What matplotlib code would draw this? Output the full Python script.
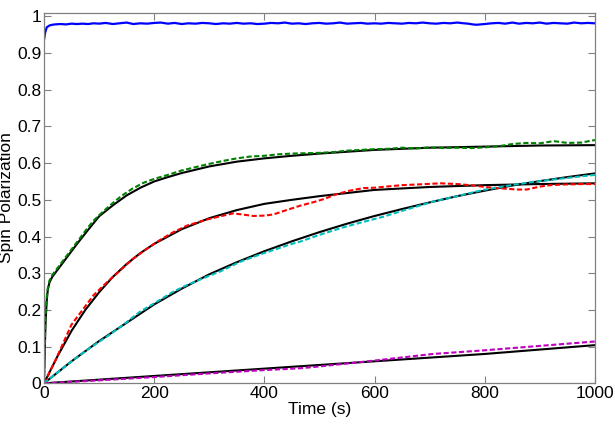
import numpy as np
import matplotlib
matplotlib.use("Agg")
from matplotlib import pyplot as plt

plt.rcParams['font.family'] = ['Liberation Sans', 'DejaVu Sans']

# blue data (solid, no fit)
blue_t = [0, 2, 5, 10, 15, 20, 30, 40, 50, 60, 70, 80, 90, 100, 112, 125, 137, 150,
          162, 175, 187, 200, 212, 225, 237, 250, 262, 275, 287, 300, 312, 325, 337,
          350, 362, 375, 387, 400, 412, 425, 437, 450, 462, 475, 487, 500, 512, 525,
          537, 550, 562, 575, 587, 600, 612, 625, 637, 650, 662, 675, 687, 700, 712,
          725, 737, 750, 762, 770, 778, 785, 792, 800, 812, 825, 837, 850, 862, 875,
          887, 900, 912, 925, 937, 950, 962, 975, 987, 1000]
blue_v = [0.935, 0.955, 0.970, 0.975, 0.977, 0.978, 0.979, 0.978, 0.980, 0.979, 0.980,
          0.979, 0.981, 0.980, 0.982, 0.979, 0.981, 0.983, 0.979, 0.981, 0.980, 0.982,
          0.983, 0.980, 0.982, 0.979, 0.981, 0.980, 0.982, 0.981, 0.979, 0.981, 0.980,
          0.982, 0.980, 0.981, 0.979, 0.980, 0.982, 0.981, 0.983, 0.980, 0.981, 0.979,
          0.981, 0.982, 0.980, 0.981, 0.983, 0.980, 0.981, 0.982, 0.980, 0.981, 0.980,
          0.982, 0.981, 0.980, 0.982, 0.981, 0.983, 0.981, 0.980, 0.982, 0.981, 0.983,
          0.981, 0.980, 0.978, 0.977, 0.978, 0.979, 0.981, 0.982, 0.980, 0.983, 0.980,
          0.982, 0.981, 0.983, 0.980, 0.982, 0.981, 0.980, 0.983, 0.981, 0.982, 0.981]

# green data and fit
green_t = [0, 1, 2, 3, 5, 7, 10, 15, 20, 30, 40, 50, 60, 70, 80, 90, 100, 120, 140,
           160, 180, 200, 225, 250, 275, 300, 325, 350, 375, 400, 425, 450, 475, 500,
           525, 550, 575, 600, 625, 650, 675, 700, 725, 750, 775, 800, 825, 850, 875,
           900, 925, 950, 975, 1000]
green_v = [0, 0.07, 0.14, 0.19, 0.235, 0.26, 0.28, 0.295, 0.305, 0.325, 0.345, 0.365,
           0.385, 0.405, 0.425, 0.443, 0.458, 0.485, 0.51, 0.53, 0.546, 0.557, 0.568,
           0.58, 0.589, 0.598, 0.606, 0.613, 0.618, 0.62, 0.624, 0.626, 0.627, 0.628,
           0.63, 0.634, 0.636, 0.638, 0.639, 0.642, 0.64, 0.643, 0.641, 0.642, 0.641,
           0.643, 0.646, 0.652, 0.655, 0.654, 0.66, 0.655, 0.656, 0.663]
green_fit_t = [0, 1, 2, 3, 5, 7, 10, 15, 20, 30, 40, 50, 60, 80, 100, 125, 150, 175,
               200, 225, 250, 275, 300, 350, 400, 450, 500, 600, 700, 800, 900, 1000]
green_fit_v = [0, 0.06, 0.12, 0.17, 0.225, 0.255, 0.275, 0.29, 0.30, 0.32, 0.34, 0.36,
               0.38, 0.418, 0.455, 0.485, 0.512, 0.533, 0.55, 0.562, 0.573, 0.582,
               0.591, 0.604, 0.613, 0.62, 0.626, 0.636, 0.642, 0.645, 0.648, 0.649]

# red data and fit
red_t = [0, 5, 10, 20, 35, 50, 60, 75, 90, 114, 140, 162, 190, 210, 235, 260, 295,
         320, 343, 360, 380, 400, 416, 440, 465, 490, 510, 530, 555, 580, 600, 628,
         650, 680, 719, 750, 780, 800, 840, 860, 876, 900, 918, 950, 980, 1000]
red_v = [0, 0.012, 0.03, 0.06, 0.11, 0.16, 0.18, 0.21, 0.24, 0.275, 0.31, 0.34, 0.37,
         0.39, 0.412, 0.43, 0.446, 0.455, 0.463, 0.46, 0.456, 0.457, 0.46, 0.472,
         0.484, 0.494, 0.503, 0.515, 0.525, 0.532, 0.533, 0.537, 0.54, 0.542, 0.545,
         0.543, 0.539, 0.535, 0.53, 0.528, 0.528, 0.536, 0.54, 0.542, 0.543, 0.543]
red_fit_t = [0, 25, 50, 75, 100, 125, 150, 175, 200, 250, 300, 350, 400, 450, 500,
             600, 700, 800, 900, 1000]
red_fit_v = [0, 0.075, 0.143, 0.2, 0.248, 0.29, 0.325, 0.355, 0.38, 0.42, 0.45, 0.472,
             0.489, 0.5, 0.51, 0.527, 0.535, 0.54, 0.543, 0.545]

# cyan data and fit
cyan_t = [0, 25, 53, 80, 114, 140, 174, 200, 235, 260, 295, 320, 356, 390, 416, 450,
          465, 501, 543, 580, 616, 650, 706, 750, 797, 840, 888, 940, 1000]
cyan_v = [0, 0.03, 0.063, 0.093, 0.127, 0.155, 0.195, 0.218, 0.25, 0.268, 0.29, 0.305,
          0.331, 0.35, 0.363, 0.38, 0.386, 0.405, 0.425, 0.44, 0.454, 0.47, 0.495, 0.51,
          0.527, 0.538, 0.549, 0.558, 0.568]
cyan_fit_t = [0, 50, 100, 150, 200, 250, 300, 350, 400, 450, 500, 550, 600, 650, 700,
              750, 800, 850, 900, 950, 1000]
cyan_fit_v = [0, 0.06, 0.115, 0.165, 0.215, 0.258, 0.297, 0.33, 0.36, 0.387, 0.412,
              0.435, 0.456, 0.475, 0.493, 0.51, 0.525, 0.539, 0.551, 0.562, 0.572]

# magenta data and fit
mag_t = [0, 100, 200, 300, 400, 465, 500, 600, 706, 800, 900, 1000]
mag_v = [0, 0.008, 0.017, 0.027, 0.036, 0.041, 0.046, 0.062, 0.08, 0.09, 0.102, 0.114]
mag_fit_t = [0, 100, 200, 300, 400, 500, 600, 700, 800, 900, 1000]
mag_fit_v = [0, 0.01, 0.02, 0.03, 0.04, 0.05, 0.06, 0.07, 0.08, 0.092, 0.104]

fig = plt.figure(figsize=(6.15, 4.32), dpi=100)
ax = fig.add_axes([0.0715, 0.1127, 0.896, 0.858])

ax.plot(blue_t, blue_v, '-', color=(0, 0, 1), lw=1.6)

fits = [(green_fit_t, green_fit_v), (red_fit_t, red_fit_v),
        (cyan_fit_t, cyan_fit_v), (mag_fit_t, mag_fit_v)]
for t, v in fits:
    ax.plot(t, v, '-', color='k', lw=1.5)

data = [(green_t, green_v, (0, 0.5, 0)), (red_t, red_v, (1, 0, 0)),
        (cyan_t, cyan_v, (0, 0.75, 0.75)), (mag_t, mag_v, (0.75, 0, 0.75))]
for t, v, c in data:
    ax.plot(t, v, '--', color=c, lw=1.5, dashes=(2.5, 1.2))

ax.set_xlim(0, 1000)
ax.set_ylim(0, 1.01)
ax.set_xticks(np.arange(0, 1001, 200))
ax.set_yticks(np.arange(0, 1.01, 0.1))
ax.set_yticklabels(['0', '0.1', '0.2', '0.3', '0.4', '0.5', '0.6', '0.7', '0.8', '0.9', '1'])
ax.tick_params(direction='in', length=5, width=0.8, color='0.5', labelsize=12.5,
               top=True, right=True, pad=2)
for s in ax.spines.values():
    s.set_color('0.5')
    s.set_linewidth(0.9)
ax.set_xlabel('Time (s)', fontsize=12.5, labelpad=1)
ax.set_ylabel('Spin Polarization', fontsize=12.5, labelpad=2)

fig.savefig('out.png', dpi=100)
